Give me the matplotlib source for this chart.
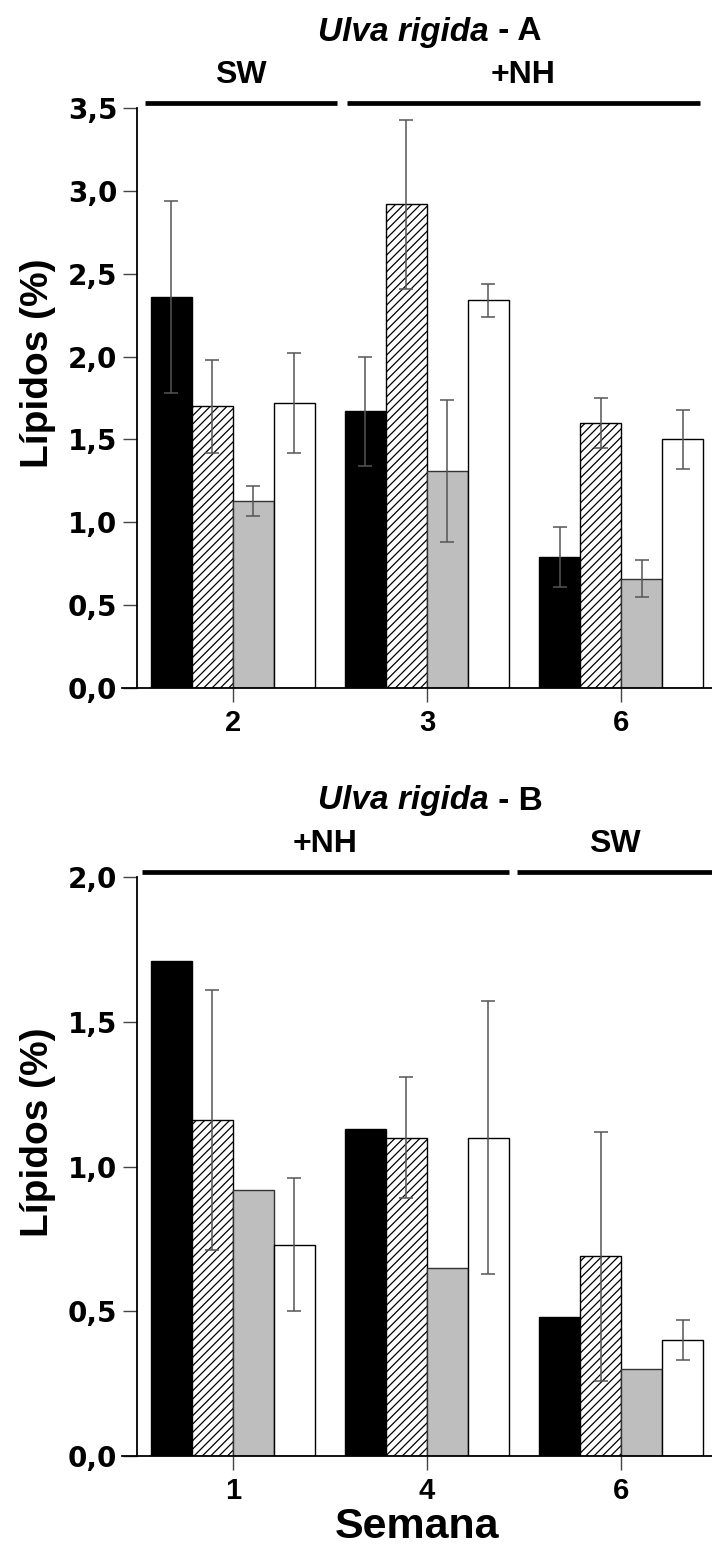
import numpy as np
import matplotlib
matplotlib.use("Agg")
import matplotlib.pyplot as plt
import matplotlib.transforms as mtransforms

plt.rcParams['font.family'] = ['Liberation Sans', 'DejaVu Sans']
plt.rcParams['hatch.linewidth'] = 0.9

# ---- data ----
weeks_a = ["2", "3", "6"]
weeks_b = ["1", "4", "6"]

# four treatments per week: black, hatched, grey, white
a_mean = [[2.36, 1.67, 0.79],
          [1.70, 2.92, 1.60],
          [1.13, 1.31, 0.66],
          [1.72, 2.34, 1.50]]
a_err = [[0.58, 0.33, 0.18],
         [0.28, 0.51, 0.15],
         [0.09, 0.43, 0.11],
         [0.30, 0.10, 0.18]]

b_mean = [[1.71, 1.13, 0.48],
          [1.16, 1.10, 0.69],
          [0.92, 0.65, 0.30],
          [0.73, 1.10, 0.40]]
b_err = [[None, None, None],
         [0.45, 0.21, 0.43],
         [None, None, None],
         [0.23, 0.47, 0.07]]

# condition brackets above each panel: (label, x start, x end) in group units
a_brackets = [("SW", -0.454, 0.536), ("+NH", 0.588, 2.407)]
b_brackets = [("+NH", -0.469, 1.423), ("SW", 1.464, 2.469)]

styles = [dict(color="black", edgecolor="black"),
          dict(color="white", edgecolor="black", hatch="////"),
          dict(color="#bebebe", edgecolor="#333333"),
          dict(color="white", edgecolor="black")]

W, H = 712, 1544
fig = plt.figure(figsize=(W / 100, H / 100), dpi=100)


def px_rect(left, top, right, bottom):
    return [left / W, 1 - bottom / H, (right - left) / W, (bottom - top) / H]


def panel(rect, means, errs, weeks, ymax, yticks, brackets, tag, xlabel=None):
    ax = fig.add_axes(rect)
    # spine position first: it resets the tick objects
    for s in ("top", "right"):
        ax.spines[s].set_visible(False)
    ax.spines["left"].set_position(("data", -0.495))
    ax.spines["left"].set_linewidth(1.3)
    ax.spines["bottom"].set_linewidth(1.3)

    x = np.arange(len(weeks))
    w = 41 / 194
    for i, (m, e, st) in enumerate(zip(means, errs, styles)):
        xs = x + (i - 1.5) * w
        ax.bar(xs, m, w, linewidth=1.0, zorder=2, **st)
        ee = np.array([np.nan if v is None else v for v in e], dtype=float)
        ok = ~np.isnan(ee)
        if ok.any():
            ax.errorbar(xs[ok], np.array(m)[ok], yerr=ee[ok], fmt="none",
                        ecolor="#555555", elinewidth=1.1, capsize=5,
                        capthick=1.1, zorder=3)
    ax.set_xlim(-0.572, 2.469)
    ax.set_ylim(0, ymax)
    ax.set_xticks(x)
    ax.set_xticklabels(weeks, fontsize=21, fontweight="bold")
    ax.set_yticks(yticks)
    ax.set_yticklabels([f"{v:.1f}".replace(".", ",") for v in yticks],
                       fontsize=20, fontweight="bold", family="DejaVu Sans")
    ax.tick_params(axis="x", length=10, width=1, color="#444444", pad=5)
    ax.tick_params(axis="y", length=10, width=1, color="#444444", pad=4)

    ax.set_ylabel("Lípidos (%)", fontsize=28, fontweight="bold")
    ax.yaxis.set_label_coords(-0.112, 0.56)

    tr = mtransforms.blended_transform_factory(ax.transData, ax.transAxes)
    ytop = 1 + 5 / (rect[3] * H)
    for lab, x0, x1 in brackets:
        ax.plot([x0, x1], [ytop, ytop], color="black", lw=3.4,
                transform=tr, clip_on=False, solid_capstyle="butt")
        ax.annotate(lab, xy=((x0 + x1) / 2, ytop), xycoords=tr,
                    xytext=(0, 14.5), textcoords="offset points",
                    ha="center", va="baseline", fontsize=23,
                    fontweight="bold")
    t1 = ax.annotate("Ulva rigida", xy=(0.438, ytop), xycoords=tr,
                     xytext=(0, 45), textcoords="offset points",
                     ha="left", va="baseline", fontsize=24,
                     fontweight="bold", style="italic")
    ax.annotate(" - " + tag, xy=(1, 0), xycoords=t1, ha="left",
                va="bottom", fontsize=24, fontweight="bold")
    if xlabel:
        ax.set_xlabel(xlabel, fontsize=31, fontweight="bold")
        ax.xaxis.label.set_va("baseline")
        ax.xaxis.set_label_coords(0.5, -82 / (rect[3] * H))
    return ax


ax1 = panel(px_rect(122, 108, 712, 688), a_mean, a_err, weeks_a, 3.5,
            np.arange(0, 3.51, 0.5), a_brackets, "A")
ax2 = panel(px_rect(122, 877, 712, 1456), b_mean, b_err, weeks_b, 2.0,
            np.arange(0, 2.01, 0.5), b_brackets, "B", xlabel="Semana")

fig.savefig("out.png", dpi=100)
